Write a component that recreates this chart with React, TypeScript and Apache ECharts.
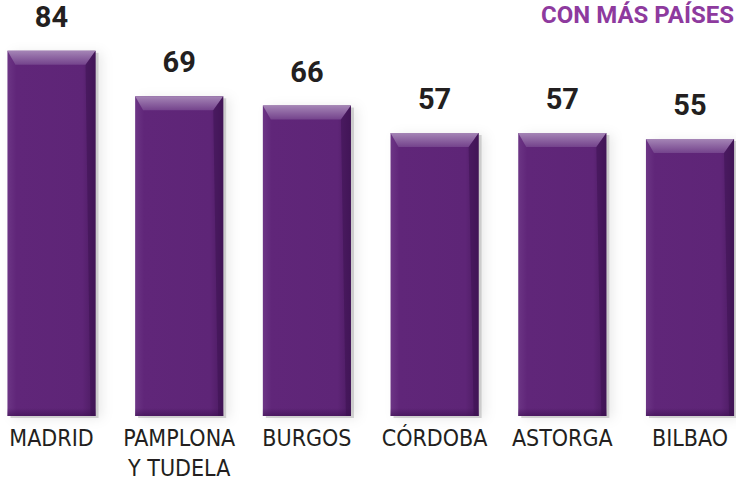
import React, { useEffect, useRef } from 'react';
import * as echarts from 'echarts';

const categories = ['MADRID', 'PAMPLONA\nY TUDELA', 'BURGOS', 'CÓRDOBA', 'ASTORGA', 'BILBAO'];
const values = [84, 69, 66, 57, 57, 55];
const titleText = 'CON MÁS PAÍSES';

const Y_MIN = -36;
const Y_MAX = 100;

export default function App() {
  const ref = useRef<HTMLDivElement>(null);
  useEffect(() => {
    if (!ref.current) return;
    const chart = echarts.init(ref.current, null, { renderer: 'svg' });
    const renderItem = (params: any, api: any) => {
      const idx = api.value(0);
      const val = api.value(1);
      const top = api.coord([idx, val]);
      const bottom = api.coord([idx, Y_MIN]);
      const bw = api.size([1, 0])[0] * 0.69;
      const x = top[0] - bw / 2;
      const y = top[1];
      const h = bottom[1] - top[1];
      const bevel = 14;
      return {
        type: 'group',
        children: [
          {
            type: 'rect',
            shape: { x: x + 3, y: y + 2, width: bw, height: h },
            style: { fill: 'rgba(120,120,120,0.3)', shadowBlur: 12, shadowColor: 'rgba(0,0,0,0.3)', shadowOffsetX: 3 },
          },
          {
            type: 'rect',
            shape: { x, y, width: bw, height: h },
            style: {
              fill: new echarts.graphic.LinearGradient(0, 0, 1, 0, [
                { offset: 0, color: '#6c3585' },
                { offset: 0.1, color: '#602679' },
                { offset: 0.85, color: '#5e2577' },
                { offset: 1, color: '#4a1a60' },
              ]),
            },
          },
          {
            type: 'rect',
            shape: { x, y: y + h - 8, width: bw, height: 8 },
            style: {
              fill: new echarts.graphic.LinearGradient(0, 0, 0, 1, [
                { offset: 0, color: 'rgba(60,15,80,0)' },
                { offset: 1, color: 'rgba(60,15,80,0.6)' },
              ]),
            },
          },
          {
            type: 'polygon',
            shape: { points: [[x, y], [x + bw, y], [x + bw - 10, y + bevel], [x + 8, y + bevel]] },
            style: {
              fill: new echarts.graphic.LinearGradient(0, 0, 0, 1, [
                { offset: 0, color: '#a585b6' },
                { offset: 1, color: '#74438c' },
              ]),
            },
          },
          {
            type: 'polygon',
            shape: { points: [[x + bw, y], [x + bw, y + h], [x + bw - 5, y + h], [x + bw - 10, y + bevel]] },
            style: { fill: 'rgba(55,15,75,0.45)' },
          },
          {
            type: 'text',
            style: {
              text: String(val),
              x: top[0],
              y: y - 34,
              align: 'center',
              verticalAlign: 'middle',
              fill: '#231f20',
              font: 'bold 29px Roboto',
            },
          },
        ],
      };
    };
    chart.setOption({
      animation: false,
      backgroundColor: '#ffffff',
      grid: { left: 51.5, right: 46, top: 2, bottom: 61, containLabel: false },
      xAxis: {
        type: 'category',
        data: categories,
        boundaryGap: false,
        axisLine: { show: false },
        axisTick: { show: false },
        splitLine: { show: false },
        axisLabel: {
          interval: 0,
          margin: 7,
          color: '#231f20',
          fontFamily: 'DejaVu Sans Condensed',
          fontSize: 23,
          lineHeight: 30,
          hideOverlap: false,
        },
      },
      yAxis: {
        type: 'value',
        min: Y_MIN,
        max: Y_MAX,
        show: false,
        splitLine: { show: false },
      },
      series: [
        {
          type: 'custom',
          renderItem,
          data: values.map((v, i) => [i, v]),
          encode: { x: 0, y: 1 },
          clip: false,
        },
      ],
      graphic: [
        {
          type: 'text',
          right: 2,
          top: 3,
          style: {
            text: titleText,
            fill: '#8e3a9e',
            font: 'bold 24px Roboto',
          },
        },
      ],
    });
    return () => chart.dispose();
  }, []);
  return <div ref={ref} style={{ position: 'absolute', left: 0, top: 0, width: 736, height: 483 }} />;
}
